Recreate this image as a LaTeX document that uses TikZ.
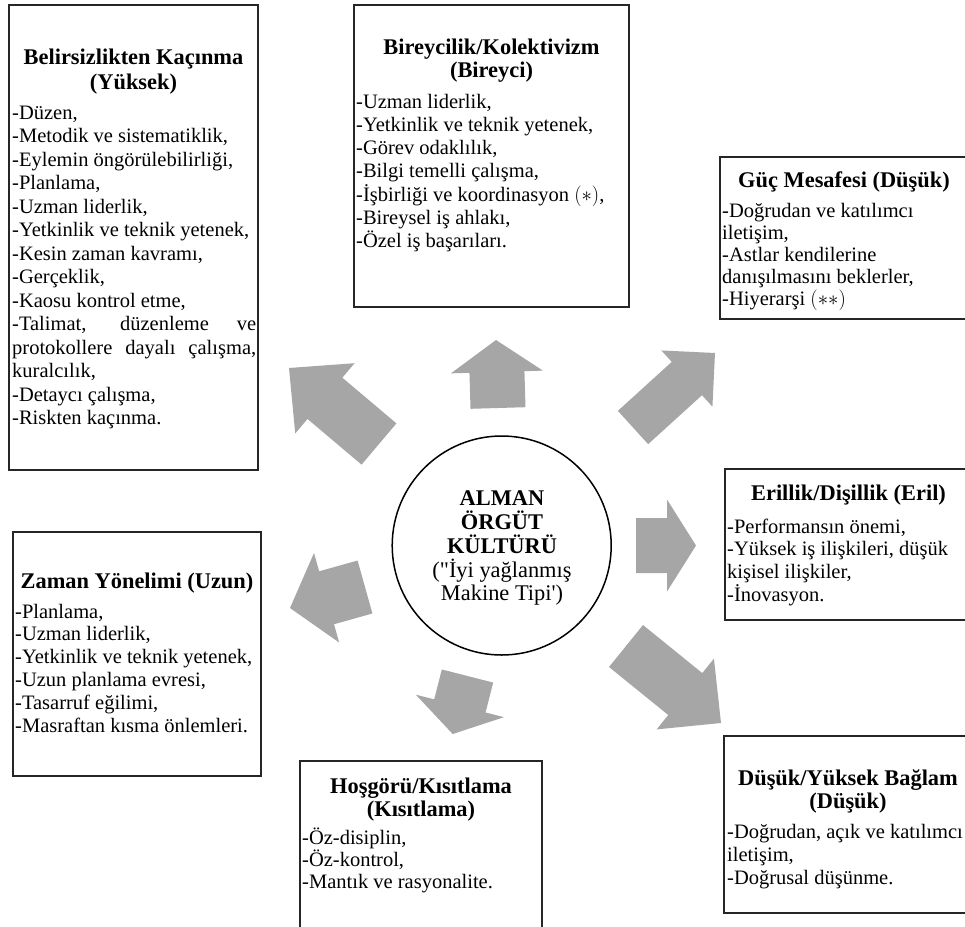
\documentclass[tikz,border=0pt]{standalone}
\usepackage{fontspec}
\newfontfamily\tnr{Liberation Serif}
\usetikzlibrary{calc}
\definecolor{arrowgray}{RGB}{166,166,166}
\tikzset{
  boxframe/.style={draw=black!85, line width=1.6pt},
  ttl/.style={font=\tnr\fontsize{22.4}{25}\selectfont\bfseries, anchor=base, inner sep=0pt},
  itm/.style={font=\tnr\fontsize{20.5}{23.5}\selectfont, anchor=base west, inner sep=0pt},
  ctr/.style={font=\tnr\fontsize{22.4}{25}\selectfont, anchor=base, inner sep=0pt},
}
\newcommand\blockarr[6]{%
  \coordinate (#1t) at #2; \coordinate (#1p) at #3;
  \coordinate (#1h) at ($(#1p)!#6pt!(#1t)$);
  \fill[arrowgray] ($(#1t)!#4pt!90:(#1p)$) -- ($(#1h)!#4pt!90:(#1p)$) -- ($(#1h)!#5pt!90:(#1p)$) -- (#1p) -- ($(#1h)!#5pt!-90:(#1p)$) -- ($(#1h)!#4pt!-90:(#1p)$) -- ($(#1t)!#4pt!-90:(#1p)$) -- cycle;
}
\newcommand\itemlist[5]{%
  \foreach \t [count=\i from 0] in {#5} {
    \node[itm] (#1-\i) at (#2, {#3+\i*#4}) {\t};
  }
}
\begin{document}
\begin{tikzpicture}[x=1pt,y=-1pt]
\useasboundingbox (0,0) rectangle (965,926);
\fill[white] (0,0) rectangle (965,926);
\clip (0,0) rectangle (965,926);

% arrows
\blockarr{aU}{(498,408)}{(496,340)}{27.5}{46}{32}
\blockarr{aUL}{(379,444)}{(289,368)}{27}{46}{47}
\blockarr{aUR}{(633,427.5)}{(715,353)}{22.5}{38}{38}
\blockarr{aR}{(636,545.5)}{(696,545.5)}{27.5}{46}{29}
\blockarr{aDR}{(626,646)}{(721,723)}{27}{45.5}{46}
\blockarr{aD}{(467.5,676)}{(452.7,734)}{26.5}{45.5}{29}
\blockarr{aL}{(365,587)}{(290,608)}{27.5}{46.5}{38}

% center circle
\node[draw=black, line width=1.5pt, circle, minimum size=219pt, inner sep=0pt] (core) at (501.7,545.5) {};
\node[ctr, font=\tnr\fontsize{22.4}{25}\selectfont\bfseries] (c1) at (502,505) {ALMAN};
\node[ctr, font=\tnr\fontsize{22.4}{25}\selectfont\bfseries] (c2) at (502,529) {ÖRGÜT};
\node[ctr, font=\tnr\fontsize{22.4}{25}\selectfont\bfseries] (c3) at (502,553) {KÜLTÜRÜ};
\node[ctr] (c4) at (502,577) {("İyi yağlanmış};
\node[ctr] (c5) at (502,600) {Makine Tipi')};

% box 1: Belirsizlikten Kacinma
\draw[boxframe] (9,5) rectangle (258,470);
\node[ttl] (b1t1) at (133.5,64) {Belirsizlikten Kaçınma};
\node[ttl] (b1t2) at (133.5,89) {(Yüksek)};
\itemlist{b1}{12}{119}{23.5}{{-Düzen,},{-Metodik ve sistematiklik,},{-Eylemin öngörülebilirliği,},{-Planlama,},{-Uzman liderlik,},{-Yetkinlik ve teknik yetenek,},{-Kesin zaman kavramı,},{-Gerçeklik,},{-Kaosu kontrol etme,},{\makebox[244pt][s]{-Talimat, düzenleme ve}},{\makebox[244pt][s]{protokollere dayalı çalışma,}},{kuralcılık,},{-Detaycı çalışma,},{-Riskten kaçınma.}}

% box 2: Bireycilik
\draw[boxframe] (354,5) rectangle (629,307);
\node[ttl] (b2t1) at (491.5,54) {Bireycilik/Kolektivizm};
\node[ttl] (b2t2) at (491.5,77) {(Bireyci)};
\itemlist{b2}{356}{108}{23.3}{{-Uzman liderlik,},{-Yetkinlik ve teknik yetenek,},{-Görev odaklılık,},{-Bilgi temelli çalışma,},{-İşbirliği ve koordinasyon $(\ast)$,},{-Bireysel iş ahlakı,},{-Özel iş başarıları.}}

% box 3: Guc Mesafesi
\draw[boxframe] (720,157) rectangle (968,319);
\node[ttl] (b3t1) at (844,187) {Güç Mesafesi (Düşük)};
\itemlist{b3}{722}{217}{22}{{-Doğrudan ve katılımcı},{iletişim,},{-Astlar kendilerine},{danışılmasını beklerler,},{-Hiyerarşi $(\ast\ast)$}}

% box 4: Erillik
\draw[boxframe] (725,469) rectangle (972,620);
\node[ttl] (b4t1) at (848.5,500) {Erillik/Dişillik (Eril)};
\itemlist{b4}{727}{533}{22.7}{{-Performansın önemi,},{-Yüksek iş ilişkileri, düşük},{kişisel ilişkiler,},{-İnovasyon.}}

% box 5: Dusuk/Yuksek Baglam
\draw[boxframe] (724,736) rectangle (972,913);
\node[ttl] (b5t1) at (848,785) {Düşük/Yüksek Bağlam};
\node[ttl] (b5t2) at (848,808) {(Düşük)};
\itemlist{b5}{727}{838}{23}{{-Doğrudan, açık ve katılımcı},{iletişim,},{-Doğrusal düşünme.}}

% box 6: Hosgoru
\draw[boxframe] (300,761) rectangle (542,935);
\node[ttl] (b6t1) at (421,793) {Hoşgörü/Kısıtlama};
\node[ttl] (b6t2) at (421,816) {(Kısıtlama)};
\itemlist{b6}{302}{844}{22}{{-Öz-disiplin,},{-Öz-kontrol,},{-Mantık ve rasyonalite.}}

% box 7: Zaman Yonelimi
\draw[boxframe] (13,532) rectangle (261,776);
\node[ttl] (b7t1) at (137,588) {Zaman Yönelimi (Uzun)};
\itemlist{b7}{15}{618}{22.8}{{-Planlama,},{-Uzman liderlik,},{-Yetkinlik ve teknik yetenek,},{-Uzun planlama evresi,},{-Tasarruf eğilimi,},{-Masraftan kısma önlemleri.}}
\end{tikzpicture}
\end{document}
